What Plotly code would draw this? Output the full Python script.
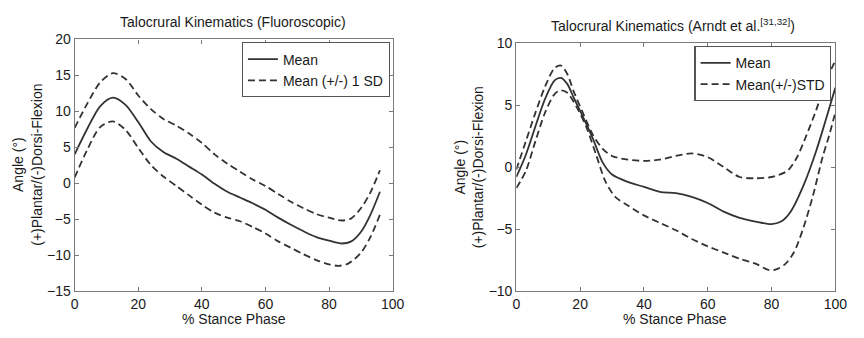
import plotly.graph_objects as go

# ---- Left panel: Fluoroscopic ----
L_x = [0, 4, 8, 12, 16, 20, 24, 28, 32, 36, 40, 44, 48, 52, 56, 60, 64, 68, 72, 76, 80, 84, 87, 90, 93, 96]
L_mean = [4.0, 7.6, 10.7, 11.9, 10.9, 8.5, 5.8, 4.3, 3.4, 2.3, 1.2, -0.1, -1.2, -2.0, -2.8, -3.7,
          -4.8, -5.8, -6.7, -7.5, -8.0, -8.4, -8.1, -6.8, -4.4, -1.2]
L_up = [7.7, 11.1, 14.0, 15.3, 14.5, 12.2, 10.3, 8.9, 8.0, 6.9, 5.6, 4.0, 2.7, 1.6, 0.5, -0.4,
        -1.5, -2.6, -3.5, -4.3, -4.8, -5.2, -4.9, -3.5, -1.3, 1.8]
L_lo_x = [0, 4, 8, 12, 16, 20, 24, 28, 32, 36, 40, 44, 48, 52, 56, 60, 64, 68, 72, 76, 80, 83, 86, 90, 93, 96]
L_lo = [0.8, 4.7, 7.8, 8.6, 7.4, 4.9, 2.5, 0.9, -0.4, -1.7, -3.0, -4.1, -4.8, -5.3, -6.1, -7.0,
        -8.1, -9.0, -9.9, -10.7, -11.3, -11.5, -11.2, -9.7, -7.5, -4.4]

# ---- Right panel: Arndt et al. ----
R_mx = [0, 3, 6, 9, 12, 14, 16, 18, 21, 24, 27, 30, 35, 40, 45, 50, 55, 60, 65, 70, 75, 80, 83, 86, 90, 94, 97, 100]
R_mean = [-0.8, 1.0, 3.3, 5.5, 7.0, 7.2, 6.7, 5.6, 4.0, 2.3, 0.4, -0.6, -1.2, -1.6, -2.0, -2.1, -2.4,
          -2.9, -3.6, -4.1, -4.4, -4.6, -4.4, -3.6, -1.5, 1.3, 3.8, 6.4]
R_ux = [0, 3, 6, 9, 12, 14, 16, 18, 21, 24, 27, 30, 35, 40, 45, 50, 55, 60, 65, 70, 75, 80, 85, 88, 91, 94, 97, 100]
R_up = [-0.2, 2.1, 4.4, 6.5, 8.0, 8.2, 7.5, 6.1, 4.3, 2.6, 1.5, 0.9, 0.6, 0.5, 0.6, 0.9, 1.1, 0.8,
        0.0, -0.8, -0.9, -0.8, -0.3, 0.8, 2.6, 4.6, 6.9, 8.6]
R_lx = [0, 3, 6, 9, 12, 14, 16, 19, 22, 25, 28, 31, 35, 40, 45, 50, 55, 60, 65, 70, 75, 79, 81, 84, 87, 90, 93, 96, 98, 100]
R_lo = [-1.7, -0.3, 2.1, 4.4, 5.9, 6.2, 6.0, 4.8, 3.2, 1.0, -1.2, -2.4, -3.1, -3.9, -4.5, -5.1, -5.8,
        -6.4, -6.9, -7.4, -7.8, -8.3, -8.3, -7.9, -6.9, -4.9, -2.3, 0.8, 2.5, 4.4]

titles = ["Talocrural Kinematics (Fluoroscopic)", "Talocrural Kinematics (Arndt et al.<sup>[31,32]</sup>)"]
legend_names = [("Mean", "Mean (+/-) 1 SD"), ("Mean", "Mean(+/-)STD")]
x_label = "% Stance Phase"
y_label = "Angle (°)<br>(+)Plantar/(-)Dorsi-Flexion"

FONT = "Liberation Sans, Arial, sans-serif"
LC = "#333333"
W = 1.8
DASH = "7px,4px"

fig = go.Figure()

def add(x, y, xa, ya, dash, name, show, leg):
    fig.add_trace(go.Scatter(x=x, y=y, mode="lines",
                             line=dict(color=LC, width=W, dash=dash, shape="spline", smoothing=0.8),
                             name=name, showlegend=show, legend=leg, xaxis=xa, yaxis=ya))

add(L_x, L_mean, "x", "y", "solid", legend_names[0][0], True, "legend")
add(L_x, L_up, "x", "y", DASH, legend_names[0][1], True, "legend")
add(L_lo_x, L_lo, "x", "y", DASH, legend_names[0][1], False, "legend")
add(R_mx, R_mean, "x2", "y2", "solid", legend_names[1][0], True, "legend2")
add(R_ux, R_up, "x2", "y2", DASH, legend_names[1][1], True, "legend2")
add(R_lx, R_lo, "x2", "y2", DASH, legend_names[1][1], False, "legend2")

axis_common = dict(showline=True, mirror="ticks", linecolor="#7a7a7a", linewidth=1.3,
                   ticks="inside", ticklen=4, tickcolor="#7a7a7a", showgrid=False, zeroline=False,
                   tickfont=dict(family=FONT, size=14, color="#1a1a1a"))

H = 338.0
Wd = 864.0
legend_common = dict(xanchor="right", yanchor="top", bgcolor="white",
                     bordercolor="#555555", borderwidth=1.2,
                     font=dict(family=FONT, size=14, color="#1a1a1a"),
                     tracegroupgap=0, itemwidth=30)
fig.update_layout(
    width=864, height=338, margin=dict(l=0, r=0, t=0, b=0),
    paper_bgcolor="white", plot_bgcolor="white",
    font=dict(family=FONT, size=14, color="#1a1a1a"),
    xaxis=dict(domain=[72 / Wd, 396 / Wd], range=[0, 100], dtick=20, anchor="y", **axis_common),
    yaxis=dict(domain=[(H - 297) / H, (H - 33) / H], range=[-15, 20], dtick=5, anchor="x", **axis_common),
    xaxis2=dict(domain=[522 / Wd, 847 / Wd], range=[0, 100], dtick=20, anchor="y2", **axis_common),
    yaxis2=dict(domain=[(H - 297) / H, (H - 37) / H], range=[-10, 10], dtick=5, anchor="x2", **axis_common),
    legend=dict(x=393 / Wd, y=1 - 36 / H, **legend_common),
    legend2=dict(x=843 / Wd, y=1 - 40 / H, **legend_common),
)

anns = [
    dict(text=titles[0], x=233 / Wd, y=1 - 15 / H),
    dict(text=titles[1], x=682 / Wd, y=1 - 18 / H),
    dict(text=x_label, x=234 / Wd, y=1 - 326 / H),
    dict(text=x_label, x=684 / Wd, y=1 - 326 / H),
    dict(text=y_label, x=24 / Wd, y=1 - 165 / H, textangle=-90),
    dict(text=y_label, x=474 / Wd, y=1 - 167 / H, textangle=-90),
]
for a in anns:
    fig.add_annotation(xref="paper", yref="paper", xanchor="center", yanchor="middle", showarrow=False,
                       font=dict(family=FONT, size=14, color="#1a1a1a"), **a)

fig.write_html("out.html")
